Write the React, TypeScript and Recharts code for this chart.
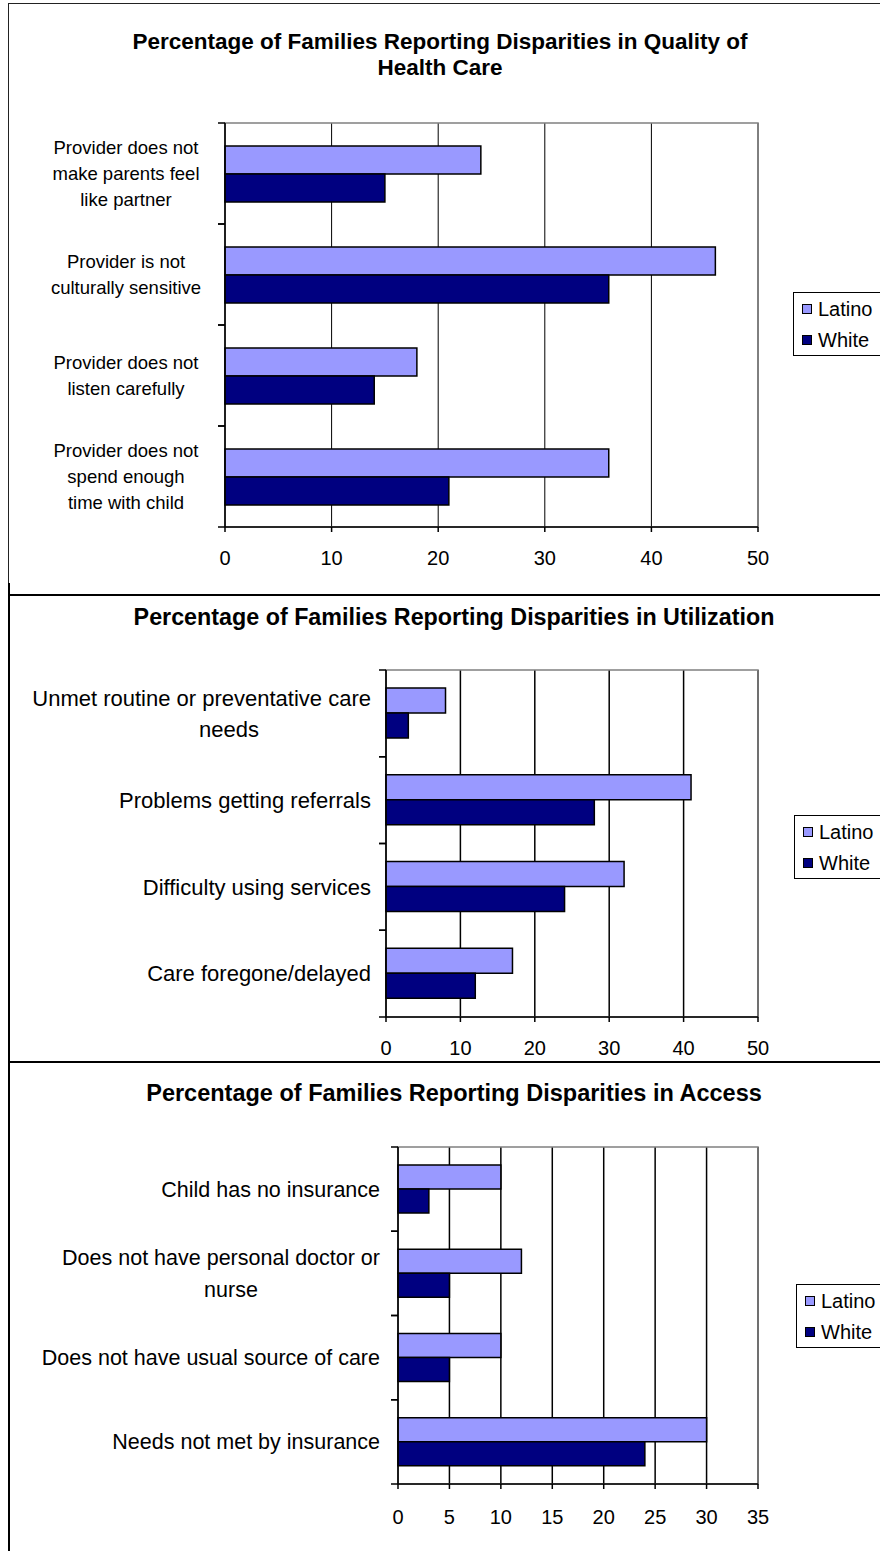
import React from 'react';
import { BarChart, Bar, XAxis, YAxis, CartesianGrid, Legend, ReferenceArea } from 'recharts';

// ---------------- data ----------------
const seriesNames = ['Latino', 'White'];

const qualityTitle = ['Percentage of Families Reporting Disparities in Quality of', 'Health Care'];
const qualityCategories = [
  'Provider does not\nmake parents feel\nlike partner',
  'Provider is not\nculturally sensitive',
  'Provider does not\nlisten carefully',
  'Provider does not\nspend enough\ntime with child',
];
const qualityLatino = [24, 46, 18, 36];
const qualityWhite = [15, 36, 14, 21];
const qualityTicks = [0, 10, 20, 30, 40, 50];

const utilizationTitle = ['Percentage of Families Reporting Disparities in Utilization'];
const utilizationCategories = [
  'Unmet routine or preventative care\nneeds',
  'Problems getting referrals',
  'Difficulty using services',
  'Care foregone/delayed',
];
const utilizationLatino = [8, 41, 32, 17];
const utilizationWhite = [3, 28, 24, 12];
const utilizationTicks = [0, 10, 20, 30, 40, 50];

const accessTitle = ['Percentage of Families Reporting Disparities in Access'];
const accessCategories = [
  'Child has no insurance',
  'Does not have personal doctor or\nnurse',
  'Does not have usual source of care',
  'Needs not met by insurance',
];
const accessLatino = [10, 12, 10, 30];
const accessWhite = [3, 5, 5, 24];
const accessTicks = [0, 5, 10, 15, 20, 25, 30, 35];

// ---------------- styles ----------------
const LATINO_FILL = '#9999FF';
const WHITE_FILL = '#000080';
const FONT = '"Liberation Sans", Arial, Helvetica, sans-serif';

type PanelCfg = {
  top: number;
  height: number;
  title: string[];
  titleCenter: number;
  titleTop: number;
  titleSize: number;
  titleLine: number;
  categories: string[];
  latino: number[];
  white: number[];
  ticks: number[];
  margin: { top: number; right: number; bottom: number; left: number };
  yAxisWidth: number;
  xAxisHeight: number;
  tickGap: number;
  labelAlign: 'center' | 'rightFirst';
  centerOffset: number;
  labelSize: number;
  labelLine: number;
  xTickSize: number;
  xTickMargin: number;
  barSize: number;
  gridWidth: number;
  legendLeft: number;
  legendTop: number;
};

const panels: PanelCfg[] = [
  {
    top: 0,
    height: 594,
    title: qualityTitle,
    titleCenter: 440,
    titleTop: 29,
    titleSize: 22.5,
    titleLine: 26,
    categories: qualityCategories,
    latino: qualityLatino,
    white: qualityWhite,
    ticks: qualityTicks,
    margin: { top: 123, right: 122, bottom: 27, left: 0 },
    yAxisWidth: 225,
    xAxisHeight: 40,
    tickGap: 18,
    labelAlign: 'center',
    centerOffset: 81,
    labelSize: 18.5,
    labelLine: 26,
    xTickSize: 5,
    xTickMargin: 19,
    barSize: 28,
    gridWidth: 1,
    legendLeft: 793,
    legendTop: 292,
  },
  {
    top: 594,
    height: 467,
    title: utilizationTitle,
    titleCenter: 454,
    titleTop: 10,
    titleSize: 23.3,
    titleLine: 26,
    categories: utilizationCategories,
    latino: utilizationLatino,
    white: utilizationWhite,
    ticks: utilizationTicks,
    margin: { top: 76, right: 122, bottom: 14, left: 0 },
    yAxisWidth: 386,
    xAxisHeight: 30,
    tickGap: 15,
    labelAlign: 'rightFirst',
    centerOffset: 142,
    labelSize: 22,
    labelLine: 31,
    xTickSize: 5,
    xTickMargin: 19,
    barSize: 25,
    gridWidth: 1.5,
    legendLeft: 794,
    legendTop: 221,
  },
  {
    top: 1061,
    height: 490,
    title: accessTitle,
    titleCenter: 454,
    titleTop: 19,
    titleSize: 23.5,
    titleLine: 26,
    categories: accessCategories,
    latino: accessLatino,
    white: accessWhite,
    ticks: accessTicks,
    margin: { top: 86, right: 122, bottom: 27, left: 0 },
    yAxisWidth: 398,
    xAxisHeight: 40,
    tickGap: 18,
    labelAlign: 'rightFirst',
    centerOffset: 149,
    labelSize: 21.5,
    labelLine: 32,
    xTickSize: 5,
    xTickMargin: 21,
    barSize: 24,
    gridWidth: 1.5,
    legendLeft: 796,
    legendTop: 223,
  },
];

function CategoryTick(props: any) {
  const { x, y, payload, cfg, band } = props;
  const lines = String(payload.value).split('\n');
  const n = lines.length;
  const axisX = x + cfg.tickGap;
  const half = band / 2;
  return (
    <g>
      <line x1={axisX - 7} x2={axisX} y1={y - half} y2={y - half} stroke="#000" strokeWidth={1.5} />
      <line x1={axisX - 7} x2={axisX} y1={y + half} y2={y + half} stroke="#000" strokeWidth={1.5} />
      {lines.map((line: string, i: number) => {
        const ly = y + (i - (n - 1) / 2) * cfg.labelLine;
        const centered = cfg.labelAlign === 'center' || i > 0;
        return (
          <text
            key={i}
            x={centered ? x - cfg.centerOffset : x}
            y={ly}
            dy="0.35em"
            textAnchor={centered ? 'middle' : 'end'}
            fontSize={cfg.labelSize}
            fontFamily={FONT}
            fill="#000"
          >
            {line}
          </text>
        );
      })}
    </g>
  );
}

function LegendBox(props: any) {
  const items = props.payload || [];
  return (
    <div
      style={{
        border: '1px solid #000',
        background: '#fff',
        width: 130,
        height: 64,
        boxSizing: 'border-box',
        fontFamily: FONT,
        fontSize: 20,
        color: '#000',
      }}
    >
      {items.map((it: any) => (
        <div key={it.value} style={{ display: 'flex', alignItems: 'center', height: 31, paddingLeft: 8 }}>
          <span
            style={{
              display: 'inline-block',
              width: 8,
              height: 8,
              border: '1.5px solid #000',
              background: it.color,
              marginRight: 6,
            }}
          />
          <span style={{ lineHeight: '20px' }}>{it.value}</span>
        </div>
      ))}
    </div>
  );
}

function Panel({ cfg }: { cfg: PanelCfg }) {
  const rows = cfg.categories.map((name, i) => ({ name, latino: cfg.latino[i], white: cfg.white[i] }));
  const max = cfg.ticks[cfg.ticks.length - 1];
  const plotHeight = cfg.height - cfg.margin.top - cfg.margin.bottom - cfg.xAxisHeight;
  const band = plotHeight / rows.length;
  return (
    <div style={{ position: 'absolute', left: 0, top: cfg.top, width: 880, height: cfg.height }}>
      <div
        style={{
          position: 'absolute',
          left: cfg.titleCenter - 420,
          width: 840,
          top: cfg.titleTop,
          textAlign: 'center',
          fontFamily: FONT,
          fontWeight: 'bold',
          fontSize: cfg.titleSize,
          lineHeight: cfg.titleLine + 'px',
          color: '#000',
          zIndex: 2,
        }}
      >
        {cfg.title.map((t) => (
          <div key={t}>{t}</div>
        ))}
      </div>
      <BarChart
        width={880}
        height={cfg.height}
        data={rows}
        layout="vertical"
        margin={cfg.margin}
        barGap={0}
        barSize={cfg.barSize}
      >
        <CartesianGrid horizontal={false} vertical stroke="#000" strokeWidth={cfg.gridWidth} />
        <ReferenceArea x1={0} x2={max} fill="none" stroke="#808080" strokeWidth={1.5} />
        <XAxis
          type="number"
          domain={[0, max]}
          ticks={cfg.ticks}
          interval={0}
          height={cfg.xAxisHeight}
          tickSize={cfg.xTickSize}
          tickMargin={cfg.xTickMargin}
          axisLine={{ stroke: '#000', strokeWidth: 1.5 }}
          tickLine={{ stroke: '#000', strokeWidth: 1.5 }}
          tick={{ fontSize: 20, fill: '#000', fontFamily: FONT }}
        />
        <YAxis
          type="category"
          dataKey="name"
          width={cfg.yAxisWidth}
          interval={0}
          tickLine={false}
          tickSize={0}
          tickMargin={cfg.tickGap}
          axisLine={{ stroke: '#000', strokeWidth: 1.5 }}
          tick={(p: any) => <CategoryTick {...p} cfg={cfg} band={band} />}
        />
        <Legend
          layout="vertical"
          align="center"
          verticalAlign="middle"
          wrapperStyle={{ left: cfg.legendLeft, top: cfg.legendTop, width: 130, height: 64 }}
          content={(p: any) => <LegendBox {...p} />}
        />
        <Bar dataKey="latino" name={seriesNames[0]} fill={LATINO_FILL} stroke="#000" strokeWidth={1.5} isAnimationActive={false} />
        <Bar dataKey="white" name={seriesNames[1]} fill={WHITE_FILL} stroke="#000" strokeWidth={1.5} isAnimationActive={false} />
      </BarChart>
    </div>
  );
}

export default function App() {
  return (
    <div
      style={{
        position: 'absolute',
        left: 0,
        top: 0,
        width: 880,
        height: 1551,
        overflow: 'hidden',
        background: '#fff',
      }}
    >
      {panels.map((cfg, i) => (
        <Panel key={i} cfg={cfg} />
      ))}
      {/* frame lines */}
      <div style={{ position: 'absolute', left: 8, top: 3, width: 872, height: 1, background: '#222' }} />
      <div style={{ position: 'absolute', left: 8, top: 3, width: 1, height: 580, background: '#222' }} />
      <div style={{ position: 'absolute', left: 8, top: 583, width: 2, height: 968, background: '#000' }} />
      <div style={{ position: 'absolute', left: 8, top: 594, width: 872, height: 2, background: '#000' }} />
      <div style={{ position: 'absolute', left: 8, top: 1061, width: 872, height: 2, background: '#000' }} />
    </div>
  );
}
